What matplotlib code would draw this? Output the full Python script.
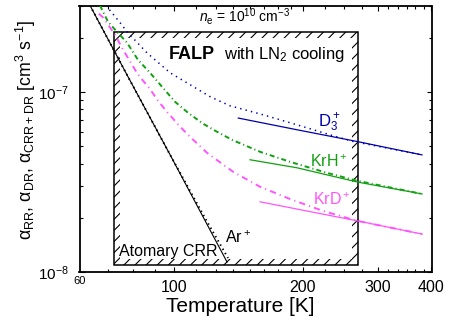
import matplotlib

matplotlib.use("Agg")
import matplotlib.pyplot as plt
from matplotlib.path import Path
from matplotlib.patches import PathPatch
from matplotlib.ticker import FixedLocator, LogLocator, NullFormatter

plt.rcParams["font.family"] = ["Liberation Sans", "DejaVu Sans"]
plt.rcParams["mathtext.fontset"] = "custom"
plt.rcParams["mathtext.rm"] = "Liberation Sans"
plt.rcParams["mathtext.it"] = "Liberation Sans:italic"
plt.rcParams["mathtext.bf"] = "Liberation Sans:bold"
plt.rcParams["hatch.linewidth"] = 0.8
plt.rcParams["lines.scale_dashes"] = False

# Recombination rate coefficients [cm^3 s^-1] vs temperature [K]
# atomary collisional-radiative recombination (CRR)
t_crr = [63.5, 77.5, 97.7, 132.9]
a_crr = [3.02e-7, 1.245e-7, 4.50e-8, 1.14e-8]

# Ar+ (CRR + RR)
t_ar = [63.5, 77.5, 97.7, 118.0, 133.6]
a_ar = [3.02e-7, 1.245e-7, 4.50e-8, 2.00e-8, 1.20e-8]

# D3+ : dissociative recombination and total (CRR + DR)
t_d3_dr = [141.2, 193.4, 267.4, 380.0]
a_d3_dr = [7.17e-8, 6.18e-8, 5.32e-8, 4.48e-8]
t_d3_tot = [69.2, 74.6, 77.5, 86.3, 97.7, 121.3, 135.0, 161.3, 193.7, 231.5, 262.0, 380.0]
a_d3_tot = [3.02e-7, 2.43e-7, 2.16e-7, 1.65e-7, 1.28e-7, 9.42e-8, 8.39e-8,
            7.48e-8, 6.58e-8, 5.79e-8, 5.32e-8, 4.48e-8]

# KrH+
t_krh_dr = [150.4, 193.7, 267.8, 380.2]
a_krh_dr = [4.21e-8, 3.80e-8, 3.17e-8, 2.72e-8]
t_krh_tot = [67.0, 69.9, 73.4, 77.5, 82.2, 87.7, 93.6, 100.4, 107.7, 116.8,
             125.9, 136.5, 158.8, 186.6, 227.8, 267.8, 380.2]
a_krh_tot = [3.02e-7, 2.46e-7, 2.16e-7, 1.88e-7, 1.51e-7, 1.28e-7, 1.07e-7,
             8.83e-8, 7.67e-8, 6.67e-8, 6.02e-8, 5.43e-8, 4.66e-8, 4.10e-8,
             3.56e-8, 3.22e-8, 2.72e-8]

# KrD+
t_krd_dr = [158.8, 267.8, 380.2]
a_krd_dr = [2.46e-8, 1.93e-8, 1.63e-8]
t_krd_tot = [66.6, 68.1, 69.9, 72.7, 75.4, 82.2, 87.7, 91.6, 96.1, 103.2, 108.8,
             119.3, 126.6, 137.3, 158.8, 186.6, 222.9, 267.8, 380.2]
a_krd_tot = [2.72e-7, 2.59e-7, 2.37e-7, 2.08e-7, 1.76e-7, 1.25e-7, 1.04e-7,
             8.95e-8, 7.77e-8, 6.42e-8, 5.65e-8, 4.60e-8, 4.15e-8, 3.61e-8,
             2.98e-8, 2.55e-8, 2.19e-8, 1.93e-8, 1.63e-8]

# range covered by the FALP apparatus with LN2 cooling
falp_t = (72.4, 269.7)
falp_a = (1.098e-8, 2.143e-7)

BLUE = "#0000aa"
GREEN = "#11a011"
MAGENTA = "#ff55ff"

fig = plt.figure(figsize=(4.53, 3.29), dpi=100)
ax = fig.add_axes([79.5 / 453, 1 - 272.3 / 329, 352 / 453, 266.3 / 329])
ax.set_xscale("log")
ax.set_yscale("log")
ax.set_xlim(60, 400)
ax.set_ylim(1e-8, 3e-7)

# hatched frame: outer border plus a hatched band just inside it
x0, x1 = falp_t
y0, y1 = falp_a
fx, fy = 10 ** (6 / 427.2), 10 ** (6 / 180)
xi0, xi1, yi0, yi1 = x0 * fx, x1 / fx, y0 * fy, y1 / fy
outer = [(x0, y0), (x1, y0), (x1, y1), (x0, y1), (x0, y0)]
inner = [(xi0, yi0), (xi0, yi1), (xi1, yi1), (xi1, yi0), (xi0, yi0)]
codes = [Path.MOVETO] + [Path.LINETO] * 3 + [Path.CLOSEPOLY]
band = Path(outer + inner, codes + codes)
ax.add_patch(PathPatch(band, facecolor="none", edgecolor="black",
                       linewidth=0, hatch="///", zorder=1))
ax.add_patch(PathPatch(Path(outer, codes), facecolor="none",
                       edgecolor="black", linewidth=1.1, zorder=1.5))

# curves
ax.plot(t_crr, a_crr, color="black", lw=0.8, zorder=3)
ax.plot(t_ar, a_ar, color="black", lw=1.4, ls=(0, (1.0, 2.5)), zorder=3)

ax.plot(t_d3_tot, a_d3_tot, color=BLUE, lw=1.1, ls=(0, (1.0, 3.0)), zorder=3)
ax.plot(t_d3_dr, a_d3_dr, color=BLUE, lw=0.9, zorder=3)

ax.plot(t_krh_tot, a_krh_tot, color=GREEN, lw=1.4,
        ls=(0, (3.6, 2.2, 0.8, 2.2)), zorder=3)
ax.plot(t_krh_dr, a_krh_dr, color=GREEN, lw=0.9, zorder=3)

ax.plot(t_krd_tot, a_krd_tot, color=MAGENTA, lw=1.4,
        ls=(0, (4.5, 3.0, 0.8, 3.0)), zorder=3)
ax.plot(t_krd_dr, a_krd_dr, color=MAGENTA, lw=0.9, zorder=3)

# axes styling
for side in ax.spines.values():
    side.set_linewidth(1.3)

ax.xaxis.set_major_locator(FixedLocator([100, 200, 300, 400]))
ax.set_xticklabels(["100", "200", "300", "400"])
ax.xaxis.set_minor_locator(FixedLocator(
    [70, 80, 90, 112.5, 125, 137.5, 150, 162.5, 175, 187.5,
     225, 250, 275, 316.7, 333.3, 350, 366.7, 383.3]))
ax.xaxis.set_minor_formatter(NullFormatter())
ax.yaxis.set_major_locator(LogLocator(base=10))
ax.yaxis.set_minor_locator(LogLocator(base=10, subs=range(2, 10)))
ax.yaxis.set_minor_formatter(NullFormatter())

ax.tick_params(which="both", direction="in", top=True, right=True, width=0.8)
ax.tick_params(which="major", length=3.5)
ax.tick_params(which="minor", length=2.0)
ax.tick_params(axis="x", which="major", labelsize=11.5, pad=5.5)
ax.tick_params(axis="y", which="major", labelsize=11, pad=8)
ax.text(0, -0.033, "60", transform=ax.transAxes, ha="center", va="center",
        fontsize=8)

# annotations
ax.text(0.470, 0.959, r"$n_{\mathrm{e}}$ = 10$^{10}$ cm$^{-3}$",
        transform=ax.transAxes, ha="center", va="center", fontsize=10)
ax.text(0.254, 0.801, "FALP", transform=ax.transAxes, ha="left",
        va="baseline", fontsize=13, fontweight="bold")
ax.text(0.411, 0.801, r"with LN$_2$ cooling", transform=ax.transAxes,
        ha="left", va="baseline", fontsize=12)

ax.text(0.678, 0.546, r"D$_3^+$", transform=ax.transAxes, ha="left",
        va="baseline", fontsize=12, color=BLUE)
ax.text(0.655, 0.397, r"KrH$^+$", transform=ax.transAxes, ha="left",
        va="baseline", fontsize=11.5, color=GREEN)
ax.text(0.664, 0.253, r"KrD$^+$", transform=ax.transAxes, ha="left",
        va="baseline", fontsize=11.5, color=MAGENTA)
ax.text(0.413, 0.109, r"Ar$^+$", transform=ax.transAxes, ha="left",
        va="baseline", fontsize=11.5)
ax.text(0.113, 0.062, "Atomary CRR", transform=ax.transAxes, ha="left",
        va="baseline", fontsize=11.5)

fig.text(26 / 453, 1 - 130 / 329,
         r"α$_{\mathrm{RR}}$, α$_{\mathrm{DR}}$, α$_{\mathrm{CRR+DR}}$ [cm$^3$ s$^{-1}$]",
         rotation=90, ha="center", va="center", fontsize=12.8)
fig.text(240 / 453, 1 - 306 / 329, "Temperature [K]", ha="center",
         va="center", fontsize=15)

fig.savefig("out.png", dpi=100)
plt.close(fig)
